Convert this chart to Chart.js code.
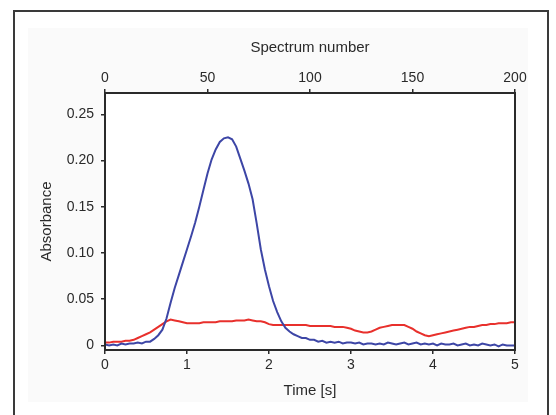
<!DOCTYPE html>
<html>
<head>
<meta charset="utf-8">
<script src="https://cdn.jsdelivr.net/npm/chart.js@4.4.1/dist/chart.umd.min.js"></script>
<style>
  html, body { margin: 0; padding: 0; background: #fff; }
  #wrap { position: relative; width: 556px; height: 415px; }
  #frame {
    position: absolute; left: 13px; top: 10px; width: 536px; height: 420px;
    border: 2px solid #3a3a3a; box-sizing: border-box;
  }
  canvas { position: absolute; left: 0; top: 0; }
</style>
</head>
<body>
<div id="wrap">
  <div id="frame"></div>
  <canvas id="absChart" width="556" height="415"></canvas>
</div>
<script>
// time axis of the spectra, seconds
const times = [
  0.00, 0.05, 0.10, 0.15, 0.20, 0.25, 0.30, 0.35, 0.40, 0.45,
  0.50, 0.55, 0.60, 0.65, 0.70, 0.75, 0.80, 0.85, 0.90, 0.95,
  1.00, 1.05, 1.10, 1.15, 1.20, 1.25, 1.30, 1.35, 1.40, 1.45,
  1.50, 1.55, 1.60, 1.65, 1.70, 1.75, 1.80, 1.85, 1.90, 1.95,
  2.00, 2.05, 2.10, 2.15, 2.20, 2.25, 2.30, 2.35, 2.40, 2.45,
  2.50, 2.55, 2.60, 2.65, 2.70, 2.75, 2.80, 2.85, 2.90, 2.95,
  3.00, 3.05, 3.10, 3.15, 3.20, 3.25, 3.30, 3.35, 3.40, 3.45,
  3.50, 3.55, 3.60, 3.65, 3.70, 3.75, 3.80, 3.85, 3.90, 3.95,
  4.00, 4.05, 4.10, 4.15, 4.20, 4.25, 4.30, 4.35, 4.40, 4.45,
  4.50, 4.55, 4.60, 4.65, 4.70, 4.75, 4.80, 4.85, 4.90, 4.95,
  5.00
];

// blue trace (peak)
const blueAbs = [
  0.001, 0.000, 0.001, 0.000, 0.002, 0.001, 0.002, 0.002, 0.003, 0.002,
  0.004, 0.004, 0.007, 0.011, 0.017, 0.029, 0.046, 0.062, 0.076, 0.090,
  0.104, 0.118, 0.133, 0.150, 0.168, 0.186, 0.201, 0.212, 0.220, 0.224,
  0.225, 0.223, 0.215, 0.202, 0.189, 0.175, 0.158, 0.132, 0.104, 0.082,
  0.064, 0.048, 0.036, 0.026, 0.019, 0.015, 0.012, 0.010, 0.008, 0.008,
  0.006, 0.006, 0.004, 0.005, 0.003, 0.004, 0.003, 0.004, 0.002, 0.003,
  0.003, 0.002, 0.003, 0.001, 0.002, 0.002, 0.001, 0.002, 0.001, 0.003,
  0.002, 0.001, 0.002, 0.003, 0.001, 0.002, 0.003, 0.001, 0.002, 0.001,
  0.002, 0.000, 0.002, 0.001, 0.001, 0.002, 0.000, 0.001, 0.002, 0.000,
  0.001, 0.000, 0.002, 0.001, 0.000, 0.001, -0.001, 0.001, 0.000, 0.000,
  0.000
];

// red trace (baseline)
const redAbs = [
  0.003, 0.003, 0.004, 0.004, 0.004, 0.005, 0.005, 0.006, 0.008, 0.010,
  0.012, 0.014, 0.017, 0.020, 0.023, 0.026, 0.028, 0.027, 0.026, 0.025,
  0.024, 0.024, 0.024, 0.024, 0.025, 0.025, 0.025, 0.025, 0.026, 0.026,
  0.026, 0.026, 0.027, 0.027, 0.027, 0.028, 0.027, 0.026, 0.026, 0.025,
  0.023, 0.022, 0.022, 0.022, 0.022, 0.022, 0.022, 0.022, 0.022, 0.022,
  0.021, 0.021, 0.021, 0.021, 0.021, 0.021, 0.020, 0.020, 0.020, 0.019,
  0.018, 0.016, 0.015, 0.014, 0.014, 0.015, 0.017, 0.019, 0.020, 0.021,
  0.022, 0.022, 0.022, 0.022, 0.020, 0.018, 0.015, 0.013, 0.011, 0.010,
  0.011, 0.012, 0.013, 0.014, 0.015, 0.016, 0.017, 0.018, 0.019, 0.020,
  0.020, 0.021, 0.022, 0.022, 0.023, 0.023, 0.024, 0.024, 0.024, 0.025,
  0.025
];

const yTicks = [0, 0.05, 0.10, 0.15, 0.20, 0.25];
const yTickLabels = ['0', '0.05', '0.10', '0.15', '0.20', '0.25'];

const blueData = times.map((t, i) => ({ x: t, y: blueAbs[i] }));
const redData = times.map((t, i) => ({ x: t, y: redAbs[i] }));

const tickFont = { family: 'Liberation Sans, Arial, sans-serif', size: 14 };
const titleFont = { family: 'Liberation Sans, Arial, sans-serif', size: 15 };
const inkColor = '#2a2a2a';

// light panel behind chart, white plot area and its frame
const framePlugin = {
  id: 'framePlugin',
  beforeDraw(chart) {
    const { ctx, chartArea: a } = chart;
    ctx.save();
    ctx.fillStyle = '#fafafa';
    ctx.fillRect(28, 28, 500, 374);
    ctx.fillStyle = '#ffffff';
    ctx.fillRect(a.left, a.top, a.right - a.left, a.bottom - a.top);
    ctx.restore();
  },
  afterDraw(chart) {
    const { ctx, chartArea: a } = chart;
    ctx.save();
    ctx.strokeStyle = inkColor;
    ctx.lineWidth = 2;
    ctx.strokeRect(a.left, a.top, a.right - a.left, a.bottom - a.top);
    ctx.restore();
  }
};

const ctx = document.getElementById('absChart').getContext('2d');

new Chart(ctx, {
  type: 'line',
  data: {
    datasets: [
      {
        label: 'Blue',
        data: blueData,
        borderColor: '#3d46a6',
        borderWidth: 2,
        pointRadius: 0,
        tension: 0,
        xAxisID: 'x',
        yAxisID: 'y'
      },
      {
        label: 'Red',
        data: redData,
        borderColor: '#e8302c',
        borderWidth: 2,
        pointRadius: 0,
        tension: 0,
        xAxisID: 'x',
        yAxisID: 'y'
      }
    ]
  },
  options: {
    responsive: false,
    animation: false,
    layout: { padding: { left: 34, top: 35, right: 41, bottom: 11 } },
    plugins: { legend: { display: false }, tooltip: { enabled: false } },
    scales: {
      x: {
        type: 'linear',
        position: 'bottom',
        min: 0,
        max: 5,
        ticks: { stepSize: 1, color: inkColor, font: tickFont, padding: 3, maxRotation: 0 },
        grid: { drawOnChartArea: false, tickLength: 4, color: inkColor, lineWidth: 1.5 },
        border: { display: false },
        title: { display: true, text: 'Time [s]', color: inkColor, font: titleFont, padding: 4 },
        afterFit(scale) { scale.height = 54; }
      },
      x2: {
        type: 'linear',
        position: 'top',
        axis: 'x',
        min: 0,
        max: 200,
        ticks: { stepSize: 50, color: inkColor, font: tickFont, padding: 2, maxRotation: 0 },
        grid: { drawOnChartArea: false, tickLength: 4, color: inkColor, lineWidth: 1.5 },
        border: { display: false },
        title: { display: true, text: 'Spectrum number', color: inkColor, font: titleFont, padding: 4 },
        afterFit(scale) { scale.height = 58; }
      },
      y: {
        type: 'linear',
        position: 'left',
        min: -0.005,
        max: 0.273,
        afterBuildTicks(scale) {
          scale.ticks = yTicks.map(v => ({ value: v }));
        },
        ticks: {
          color: inkColor,
          font: tickFont,
          padding: 7,
          callback: (v) => {
            const i = yTicks.findIndex(t => Math.abs(t - v) < 1e-9);
            return i >= 0 ? yTickLabels[i] : '';
          }
        },
        grid: { drawOnChartArea: false, tickLength: 4, color: inkColor, lineWidth: 1.5 },
        border: { display: false },
        title: { display: true, text: 'Absorbance', color: inkColor, font: titleFont, padding: 4 },
        afterFit(scale) { scale.width = 71; }
      }
    }
  },
  plugins: [framePlugin]
});
</script>
</body>
</html>
